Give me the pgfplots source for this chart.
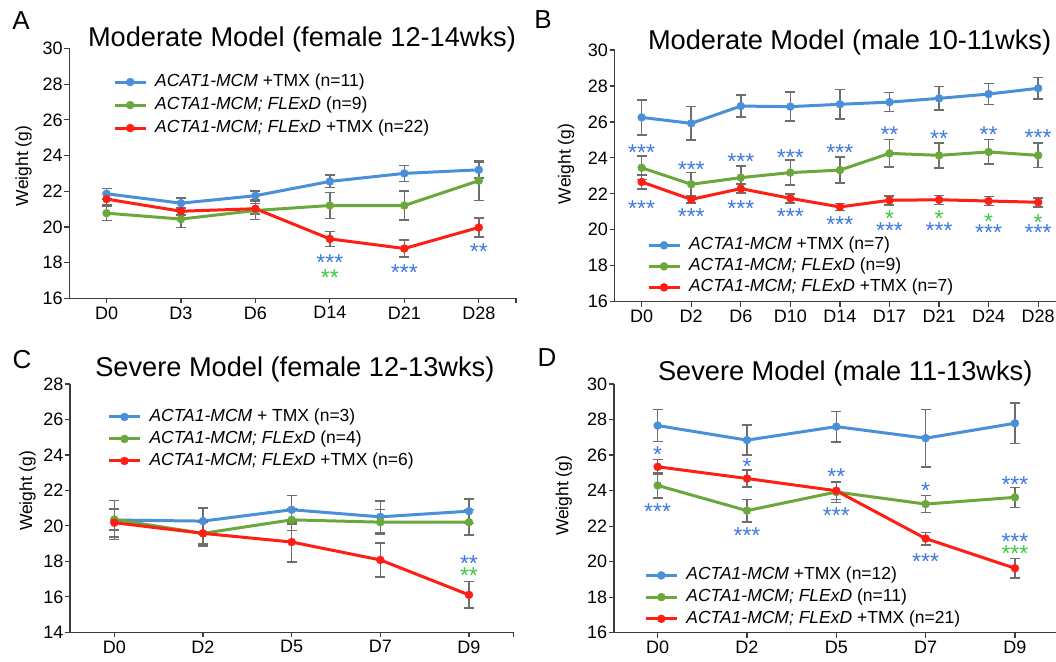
\documentclass[border=0pt]{standalone}
\usepackage{fontspec}
\setmainfont{Liberation Sans}
\usepackage{pgfplots}
\pgfplotsset{compat=1.18}
\definecolor{cb}{RGB}{74,144,217}
\definecolor{cg}{RGB}{106,168,60}
\definecolor{cr}{RGB}{255,30,20}
\definecolor{sbl}{RGB}{60,120,225}
\definecolor{sgr}{RGB}{60,200,60}
\definecolor{errc}{RGB}{110,110,110}
\definecolor{axisc}{RGB}{60,60,60}
\pgfplotsset{
  panel/.style={
    scale only axis, anchor=south west,
    axis x line*=bottom, axis y line*=left,
    axis line style={draw=axisc, line width=1.3pt, -},
    every tick/.style={draw=axisc, line width=1.2pt},
    tick align=outside, major tick length=5pt,
    ytick distance=2,
    tick label style={font=\fontsize{18}{20}\selectfont, text=black},
    yticklabel style={inner sep=1.5pt},
    xticklabel style={inner sep=3pt},
    /pgf/number format/assume math mode=true,
    clip=false,
    legend style={draw=none, fill=none, inner sep=0pt, outer sep=0pt, anchor=north west,
      font=\fontsize{17.5}{20}\selectfont,
      nodes={inner sep=0pt, text height=12.6pt, text depth=3.6pt}, column sep=8pt},
    legend cell align=left,
    legend image code/.code={\draw[mark repeat=2,mark phase=2,##1] plot coordinates {(0pt,0pt)(15.5pt,0pt)(31pt,0pt)};},
  },
  ser/.style={color=#1, line width=3pt, mark=*, mark size=4pt,
    mark options={fill=#1, draw=#1, line width=0.4pt},
    error bars/.cd, y dir=both, y explicit,
    error bar style={draw=errc, line width=1.5pt},
    error mark options={rotate=90, draw=errc, mark size=5pt, line width=1.5pt}},
}
\newcommand{\st}[1]{\smash{\raisebox{-9.2pt}{#1}}}
\tikzset{
  sb/.style={text=sbl, font=\fontsize{23}{23}\selectfont, inner sep=0pt, anchor=center, text height=6.9pt, text depth=0pt},
  sg/.style={text=sgr, font=\fontsize{23}{23}\selectfont, inner sep=0pt, anchor=center, text height=6.9pt, text depth=0pt},
}
\begin{document}
\begin{tikzpicture}
\path[use as bounding box] (0pt,0pt) rectangle (1056pt,661pt);

% ---------------- Panel A
\begin{axis}[panel, at={(69.3pt,362.7pt)}, width=446.7pt, height=249.8pt,
  xmin=-0.5, xmax=5.5, ymin=16, ymax=30,
  xtick={0,...,5}, xticklabels={D0,D3,D6,D14,D21,D28},
  extra x ticks={5.5}, extra x tick labels={},
  legend style={at={(0.0983,0.898)}, row sep=6.8pt}]
\addplot[ser=cb] coordinates {(0,21.86) +- (0,0.3) (1,21.33) +- (0,0.3) (2,21.75) +- (0,0.25) (3,22.55) +- (0,0.35) (4,23.0) +- (0,0.45) (5,23.2) +- (0,0.45)};
\addlegendentry{\textit{ACAT1-MCM} +TMX (n=11)}
\addplot[ser=cg] coordinates {(0,20.77) +- (0,0.4) (1,20.44) +- (0,0.47) (2,20.92) +- (0,0.5) (3,21.2) +- (0,0.72) (4,21.2) +- (0,0.8) (5,22.59) +- (0,1.1)};
\addlegendentry{\textit{ACTA1-MCM; FLExD} (n=9)}
\addplot[ser=cr] coordinates {(0,21.56) +- (0,0.3) (1,20.88) +- (0,0.2) (2,21.02) +- (0,0.3) (3,19.33) +- (0,0.42) (4,18.79) +- (0,0.47) (5,19.97) +- (0,0.54)};
\addlegendentry{\textit{ACTA1-MCM; FLExD} +TMX (n=22)}
\node[sb] at (axis cs:3,18.25) {\st{***}};
\node[sg] at (axis cs:3,17.4) {\st{**}};
\node[sb] at (axis cs:4,17.7) {\st{***}};
\node[sb] at (axis cs:5,18.87) {\st{**}};
\end{axis}

% ---------------- Panel B
\begin{axis}[panel, at={(614.6pt,359.3pt)}, width=441.4pt, height=251.7pt,
  xmin=-0.546, xmax=8.36, ymin=16, ymax=30,
  xtick={0,...,8}, xticklabels={D0,D2,D6,D10,D14,D17,D21,D24,D28},
  legend style={at={(0.0734,0.256)}, row sep=4.8pt}]
\addplot[ser=cb] coordinates {(0,26.25) +- (0,0.97) (1,25.92) +- (0,0.93) (2,26.88) +- (0,0.62) (3,26.85) +- (0,0.8) (4,26.98) +- (0,0.82) (5,27.1) +- (0,0.53) (6,27.31) +- (0,0.65) (7,27.55) +- (0,0.58) (8,27.87) +- (0,0.6)};
\addlegendentry{\textit{ACTA1-MCM} +TMX (n=7)}
\addplot[ser=cg] coordinates {(0,23.45) +- (0,0.65) (1,22.53) +- (0,0.65) (2,22.9) +- (0,0.64) (3,23.18) +- (0,0.7) (4,23.32) +- (0,0.72) (5,24.25) +- (0,0.76) (6,24.14) +- (0,0.7) (7,24.33) +- (0,0.68) (8,24.14) +- (0,0.68)};
\addlegendentry{\textit{ACTA1-MCM; FLExD} (n=9)}
\addplot[ser=cr] coordinates {(0,22.66) +- (0,0.4) (1,21.69) +- (0,0.2) (2,22.29) +- (0,0.25) (3,21.75) +- (0,0.25) (4,21.27) +- (0,0.2) (5,21.64) +- (0,0.25) (6,21.67) +- (0,0.25) (7,21.6) +- (0,0.25) (8,21.53) +- (0,0.25)};
\addlegendentry{\textit{ACTA1-MCM; FLExD} +TMX (n=7)}
\node[sb] at (axis cs:0,24.53) {\st{***}};
\node[sb] at (axis cs:1,23.6) {\st{***}};
\node[sb] at (axis cs:2,24.07) {\st{***}};
\node[sb] at (axis cs:3,24.29) {\st{***}};
\node[sb] at (axis cs:4,24.53) {\st{***}};
\node[sb] at (axis cs:5,25.55) {\st{**}};
\node[sb] at (axis cs:6,25.31) {\st{**}};
\node[sb] at (axis cs:7,25.55) {\st{**}};
\node[sb] at (axis cs:8,25.4) {\st{***}};
\node[sb] at (axis cs:0,21.43) {\st{***}};
\node[sb] at (axis cs:1,20.97) {\st{***}};
\node[sb] at (axis cs:2,21.43) {\st{***}};
\node[sb] at (axis cs:3,21.0) {\st{***}};
\node[sb] at (axis cs:4,20.54) {\st{***}};
\node[sb] at (axis cs:5,20.21) {\st{***}};
\node[sb] at (axis cs:6,20.21) {\st{***}};
\node[sb] at (axis cs:7,20.08) {\st{***}};
\node[sb] at (axis cs:8,20.08) {\st{***}};
\node[sg] at (axis cs:5,20.91) {\st{*}};
\node[sg] at (axis cs:6,20.91) {\st{*}};
\node[sg] at (axis cs:7,20.73) {\st{*}};
\node[sg] at (axis cs:8,20.64) {\st{*}};
\end{axis}

% ---------------- Panel C
\begin{axis}[panel, at={(70pt,28.7pt)}, width=443.3pt, height=248.3pt,
  xmin=-0.5, xmax=4.5, ymin=14, ymax=28,
  xtick={0,...,4}, xticklabels={D0,D2,D5,D7,D9},
  extra x ticks={4.5}, extra x tick labels={},
  legend style={at={(0.0846,0.900)}, row sep=5.8pt}]
\addplot[ser=cb] coordinates {(0,20.33) +- (0,1.1) (1,20.27) +- (0,0.75) (2,20.91) +- (0,0.8) (3,20.51) +- (0,0.9) (4,20.83) +- (0,0.7)};
\addlegendentry{\textit{ACTA1-MCM} + TMX (n=3)}
\addplot[ser=cg] coordinates {(0,20.36) +- (0,0.6) (1,19.58) +- (0,0.7) (2,20.34) +- (0,0.6) (3,20.21) +- (0,0.7) (4,20.21) +- (0,0.72)};
\addlegendentry{\textit{ACTA1-MCM; FLExD} (n=4)}
\addplot[ser=cr] coordinates {(0,20.18) +- (0,0.8) (1,19.58) +- (0,0.6) (2,19.09) +- (0,1.12) (3,18.08) +- (0,0.95) (4,16.11) +- (0,0.75)};
\addlegendentry{\textit{ACTA1-MCM; FLExD} +TMX (n=6)}
\node[sb] at (axis cs:4,18.12) {\st{**}};
\node[sg] at (axis cs:4,17.46) {\st{**}};
\end{axis}

% ---------------- Panel D
\begin{axis}[panel, at={(613.9pt,28.3pt)}, width=442.1pt, height=248.7pt,
  xmin=-0.49, xmax=4.46, ymin=16, ymax=30,
  xtick={0,...,4}, xticklabels={D0,D2,D5,D7,D9},
  legend style={at={(0.0688,0.263)}, row sep=5.5pt}]
\addplot[ser=cb] coordinates {(0,27.66) +- (0,0.9) (1,26.84) +- (0,0.85) (2,27.6) +- (0,0.86) (3,26.95) +- (0,1.62) (4,27.79) +- (0,1.15)};
\addlegendentry{\textit{ACTA1-MCM} +TMX (n=12)}
\addplot[ser=cg] coordinates {(0,24.29) +- (0,0.72) (1,22.87) +- (0,0.63) (2,23.92) +- (0,0.6) (3,23.24) +- (0,0.47) (4,23.62) +- (0,0.56)};
\addlegendentry{\textit{ACTA1-MCM; FLExD} (n=11)}
\addplot[ser=cr] coordinates {(0,25.34) +- (0,0.4) (1,24.68) +- (0,0.47) (2,23.99) +- (0,0.5) (3,21.30) +- (0,0.35) (4,19.63) +- (0,0.54)};
\addlegendentry{\textit{ACTA1-MCM; FLExD} +TMX (n=21)}
\node[sb] at (axis cs:0,26.29) {\st{*}};
\node[sb] at (axis cs:0,23.11) {\st{***}};
\node[sb] at (axis cs:1,25.64) {\st{*}};
\node[sb] at (axis cs:1,21.75) {\st{***}};
\node[sb] at (axis cs:2,25.08) {\st{**}};
\node[sb] at (axis cs:2,22.87) {\st{***}};
\node[sb] at (axis cs:3,24.27) {\st{*}};
\node[sb] at (axis cs:3,20.27) {\st{***}};
\node[sb] at (axis cs:4,24.61) {\st{***}};
\node[sb] at (axis cs:4,21.39) {\st{***}};
\node[sg] at (axis cs:4,20.74) {\st{***}};
\end{axis}

% ---------------- Titles, letters, y labels
\begin{scope}[every node/.style={inner sep=0pt}]
\node[font=\fontsize{27.2}{30}\selectfont] at (302pt,622pt) {Moderate Model (female 12-14wks)};
\node[font=\fontsize{27.2}{30}\selectfont] at (849.6pt,619pt) {Moderate Model (male 10-11wks)};
\node[font=\fontsize{27.2}{30}\selectfont] at (294.9pt,292pt) {Severe Model (female 12-13wks)};
\node[font=\fontsize{27.2}{30}\selectfont] at (845.2pt,288pt) {Severe Model (male 11-13wks)};
\node[font=\fontsize{26}{30}\selectfont] at (21pt,640pt) {A};
\node[font=\fontsize{26}{30}\selectfont] at (543pt,641pt) {B};
\node[font=\fontsize{26}{30}\selectfont] at (22pt,301pt) {C};
\node[font=\fontsize{26}{30}\selectfont] at (547pt,303pt) {D};
\node[font=\fontsize{17.5}{20}\selectfont, rotate=90] at (23.7pt,495pt) {Weight (g)};
\node[font=\fontsize{17.5}{20}\selectfont, rotate=90] at (566pt,497pt) {Weight (g)};
\node[font=\fontsize{17.5}{20}\selectfont, rotate=90] at (27.7pt,170.2pt) {Weight (g)};
\node[font=\fontsize{17.5}{20}\selectfont, rotate=90] at (563.8pt,165.2pt) {Weight (g)};
\end{scope}
\end{tikzpicture}
\end{document}
